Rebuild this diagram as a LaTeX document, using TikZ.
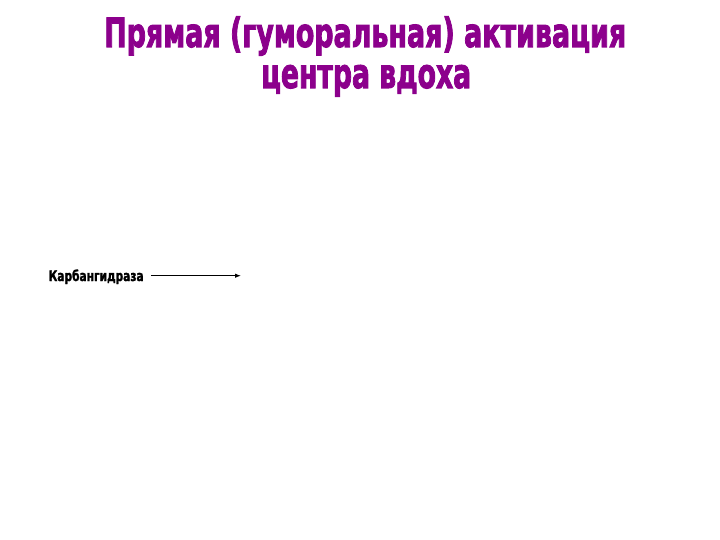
\documentclass[tikz,border=0pt]{standalone}
\usepackage{fontspec}
\usepackage{graphicx}
\newfontfamily\impfont[FakeBold=2.5]{DejaVu Sans Condensed Bold}
\newfontfamily\labfont[FakeBold=2]{DejaVu Sans Condensed Bold}
\usetikzlibrary{arrows.meta}
\definecolor{titlepurple}{RGB}{140,0,140}
\tikzset{
  titletext/.style={anchor=base west, inner sep=0pt, text=titlepurple, font=\impfont},
  labeltext/.style={anchor=base west, inner sep=0pt, text=black, font=\labfont},
  arrowline/.style={-{Latex[length=6pt,width=4.5pt]}, line width=1pt, black}
}
\begin{document}
\begin{tikzpicture}[x=1pt,y=-1pt]
\useasboundingbox[fill=white] (0,0) rectangle (720,540);
\node[titletext] (t1) at (104,47) {\resizebox{522pt}{30.5pt}{Прямая (гуморальная) активация}};
\node[titletext] (t2) at (261,88) {\resizebox{210pt}{23pt}{центра вдоха}};
\node[labeltext] (lab) at (48.5,281) {\resizebox{95pt}{11.5pt}{Карбангидраза}};
\coordinate (arrend) at (241,275.7);
\draw[arrowline, shorten <=7pt] (lab.east |- arrend) -- (arrend);
\end{tikzpicture}
\end{document}
